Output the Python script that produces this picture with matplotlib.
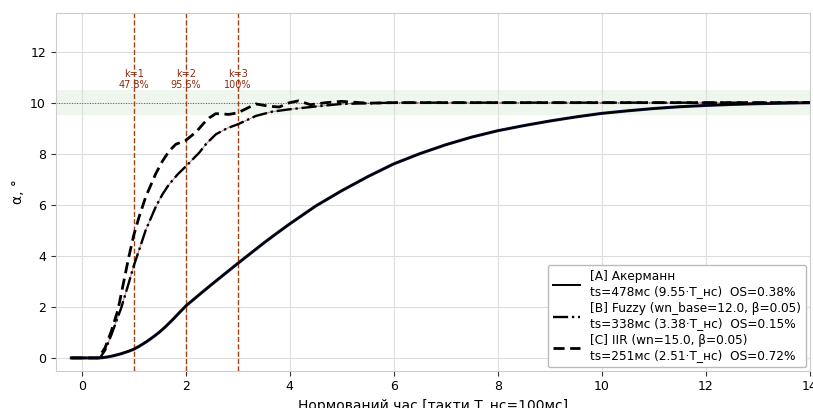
import matplotlib

matplotlib.use("Agg")
import matplotlib.pyplot as plt

# ─── Data ───────────────────────────────────────────────────────────────────

t_a = [-0.2, 0.3, 0.4, 0.5, 0.6, 0.75, 0.9, 1.0, 1.1, 1.25, 1.4, 1.5, 1.6,
       1.75, 1.9, 2.0, 2.25, 2.5, 2.75, 3.0, 3.25, 3.5, 3.75, 4.0, 4.5,
       5.0, 5.5, 6.0, 6.5, 7.0, 7.5, 8.0, 8.5, 9.0, 9.5, 10.0, 10.5, 11.0,
       11.5, 12.0, 12.5, 13.0, 13.5, 14.0]
y_a = [0.0, 0.0, 0.01, 0.04, 0.08, 0.16, 0.26, 0.34, 0.45, 0.64, 0.86,
       1.02, 1.2, 1.5, 1.82, 2.03, 2.46, 2.88, 3.29, 3.7, 4.1, 4.5, 4.88,
       5.25, 5.95, 6.55, 7.1, 7.6, 8.0, 8.35, 8.65, 8.9, 9.1, 9.28, 9.44,
       9.58, 9.68, 9.77, 9.84, 9.89, 9.93, 9.96, 9.98, 10.0]

t_b = [-0.2, 0.35, 0.45, 0.57, 0.76, 0.9, 1.0, 1.1, 1.23, 1.42, 1.55, 1.68,
       1.85, 2.0, 2.26, 2.4, 2.58, 2.8, 3.0, 3.35, 3.67, 4.0, 4.5, 5.0,
       6.0, 8.0, 10.0, 12.0, 14.0]
y_b = [0.0, 0.0, 0.3, 0.9, 1.96, 2.9, 3.6, 4.2, 5.0, 5.9, 6.4, 6.8, 7.2,
       7.5, 8.04, 8.4, 8.76, 9.0, 9.15, 9.48, 9.65, 9.74, 9.85, 9.95,
       10.0, 10.0, 10.0, 10.0, 10.0]

t_c = [-0.2, 0.32, 0.45, 0.57, 0.7, 0.8, 0.9, 1.0, 1.1, 1.23, 1.42, 1.55,
       1.68, 1.81, 2.0, 2.2, 2.35, 2.45, 2.58, 2.83, 3.0, 3.2, 3.35, 3.6,
       3.8, 4.0, 4.17, 4.4, 4.7, 5.0, 5.5, 6.0, 8.0, 10.0, 12.0, 14.0]
y_c = [0.0, 0.0, 0.4, 1.05, 1.9, 2.9, 3.9, 4.8, 5.5, 6.3, 7.2, 7.7, 8.1,
       8.37, 8.52, 8.85, 9.2, 9.4, 9.57, 9.54, 9.6, 9.8, 9.95, 9.86, 9.83,
       10.0, 10.07, 9.92, 10.0, 10.05, 9.98, 10.0, 10.0, 10.0, 10.0, 10.0]

labels = [
    "[A] Акерманн\nts=478мс (9.55·T_нс)  OS=0.38%",
    "[B] Fuzzy (wn_base=12.0, β=0.05)\nts=338мс (3.38·T_нс)  OS=0.15%",
    "[C] IIR (wn=15.0, β=0.05)\nts=251мс (2.51·T_нс)  OS=0.72%",
]

k_steps = [1, 2, 3]
k_pct = ["47.8%", "95.6%", "100%"]

target = 10.0
band = 0.5

# ─── Figure ────────────────────────────────────────────────────────────────

fig = plt.figure(figsize=(8.13, 4.08), dpi=100)
ax = fig.add_axes([0.0685, 0.0914, 0.9274, 0.876])

ax.axhspan(target - band, target + band, color="#cfe8cf", alpha=0.35, lw=0)
ax.axhline(target, color="#4a6a4a", ls=":", lw=0.7)

for k, pct in zip(k_steps, k_pct):
    ax.axvline(k, color="#a3410f", ls="--", lw=1.0)
    ax.text(k, 10.9, f"k={k}\n{pct}", ha="center", va="center",
            fontsize=7, color="#8b2a10", linespacing=1.05)

ax.plot(t_a, y_a, color="#1a2050", lw=2.2)
ax.plot(t_a, y_a, color="black", lw=1.4, label=labels[0])
ax.plot(t_b, y_b, color="#8b1a1a", lw=0.8, alpha=0.5)
ax.plot(t_b, y_b, color="black", lw=1.7, ls="-.", label=labels[1])
ax.plot(t_c, y_c, color="black", lw=2.0, dashes=(4, 2), label=labels[2])

ax.set_xlim(-0.5, 14)
ax.set_ylim(-0.5, 13.5)
ax.set_xticks(range(0, 15, 2))
ax.set_yticks(range(0, 13, 2))
ax.grid(True, color="#dddddd", lw=0.8)
for sp in ax.spines.values():
    sp.set_color("#cccccc")
ax.tick_params(labelsize=9, color="#333333", length=3.5)

ax.set_ylabel("α, °", fontsize=10)
ax.set_xlabel("Нормований час [такти T_нс=100мс]", fontsize=10, labelpad=4)

leg = ax.legend(loc="lower right", fontsize=8.7, handlelength=2.2,
                labelspacing=0.3, borderpad=0.45, framealpha=1.0,
                edgecolor="#bbbbbb", borderaxespad=0.3)

fig.savefig("out.png", dpi=100)
